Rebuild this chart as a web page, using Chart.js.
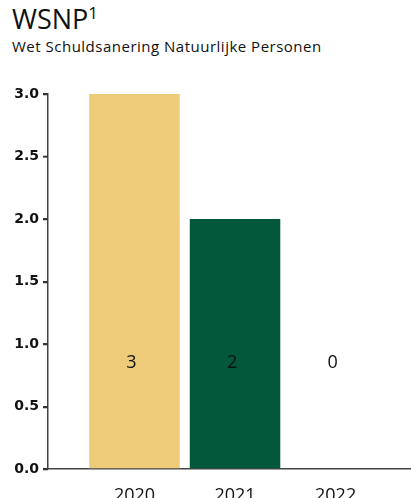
<!DOCTYPE html>
<html lang="nl">
<head>
    <meta charset="UTF-8">
    <title>WSNP</title>
    <script src="https://cdn.jsdelivr.net/npm/chart.js"></script>
    <style>
        body { margin: 0; width: 411px; height: 498px; overflow: hidden; background: #fff; position: relative; font-family: 'Open Sans', sans-serif; color: #111; }
        #title { position: absolute; left: 12px; top: 4px; font-size: 27px; line-height: 30px; }
        #title sup { font-size: 17px; vertical-align: 10px; line-height: 0; }
        #subtitle { position: absolute; left: 12px; top: 37px; font-size: 15px; line-height: 18px; letter-spacing: 0.5px; }
        #wrap { position: absolute; left: 0; top: 80px; width: 411px; height: 418px; }
    </style>
</head>
<body>
    <div id="title">WSNP<sup>1</sup></div>
    <div id="subtitle">Wet Schuldsanering Natuurlijke Personen</div>
    <div id="wrap"><canvas id="wsnpChart"></canvas></div>

    <script>
        const years = [2020, 2021, 2022];
        const counts = [3, 2, 0];
        const barColors = ['#EDCB78', '#03573A', '#03573A'];
        const yTicks = [0, 0.5, 1, 1.5, 2, 2.5, 3];

        // numbers inside the bars, all on the same height
        const valueLabels = {
            id: 'valueLabels',
            afterDatasetsDraw(chart) {
                const { ctx, scales: { x, y } } = chart;
                ctx.save();
                ctx.font = '18px "Open Sans"';
                ctx.fillStyle = '#111';
                ctx.textAlign = 'center';
                ctx.textBaseline = 'middle';
                years.forEach((yr, i) => {
                    ctx.fillText(String(counts[i]), x.getPixelForValue(yr) - 3, y.getPixelForValue(0.85));
                });
                ctx.restore();
            }
        };

        // short tick marks on the left of the y axis line
        const yTickMarks = {
            id: 'yTickMarks',
            afterDraw(chart) {
                const { ctx, scales: { y } } = chart;
                ctx.save();
                ctx.strokeStyle = '#333';
                ctx.lineWidth = 1.5;
                ctx.beginPath();
                yTicks.forEach(v => {
                    const py = Math.round(y.getPixelForValue(v)) + 0.5;
                    ctx.moveTo(y.right - 5, py);
                    ctx.lineTo(y.right, py);
                });
                ctx.stroke();
                ctx.restore();
            }
        };

        new Chart(document.getElementById('wsnpChart'), {
            type: 'bar',
            data: {
                datasets: [{
                    data: years.map((yr, i) => ({ x: yr, y: counts[i] })),
                    backgroundColor: barColors,
                    barPercentage: 0.9,
                    categoryPercentage: 1.0
                }]
            },
            options: {
                responsive: true,
                maintainAspectRatio: false,
                animation: false,
                layout: { padding: { top: 14, left: 0, right: 0, bottom: 0 } },
                plugins: { legend: { display: false }, tooltip: { enabled: false } },
                scales: {
                    x: {
                        type: 'linear',
                        offset: false,
                        min: 2019.14,
                        max: 2022.75,
                        grid: { display: false, offset: false },
                        border: { display: true, color: '#444', width: 1.5 },
                        afterBuildTicks: scale => { scale.ticks = years.map(v => ({ value: v })); },
                        afterFit: scale => { scale.height = 29; },
                        ticks: {
                            padding: 8,
                            color: '#111',
                            font: { family: 'Open Sans', size: 18 },
                            callback: v => String(v)
                        }
                    },
                    y: {
                        min: 0,
                        max: 3,
                        grid: { drawOnChartArea: false, drawTicks: true, tickLength: 5, color: '#333', lineWidth: 1.5 },
                        border: { display: true, color: '#444', width: 1.5 },
                        afterBuildTicks: scale => { scale.ticks = yTicks.map(v => ({ value: v })); },
                        afterFit: scale => { scale.width = 48; },
                        ticks: {
                            padding: 4,
                            color: '#111',
                            font: { family: 'DejaVu Sans', size: 14, weight: 'bold' },
                            callback: v => v.toFixed(1)
                        }
                    }
                }
            },
            plugins: [valueLabels, yTickMarks]
        });
    </script>
</body>
</html>
